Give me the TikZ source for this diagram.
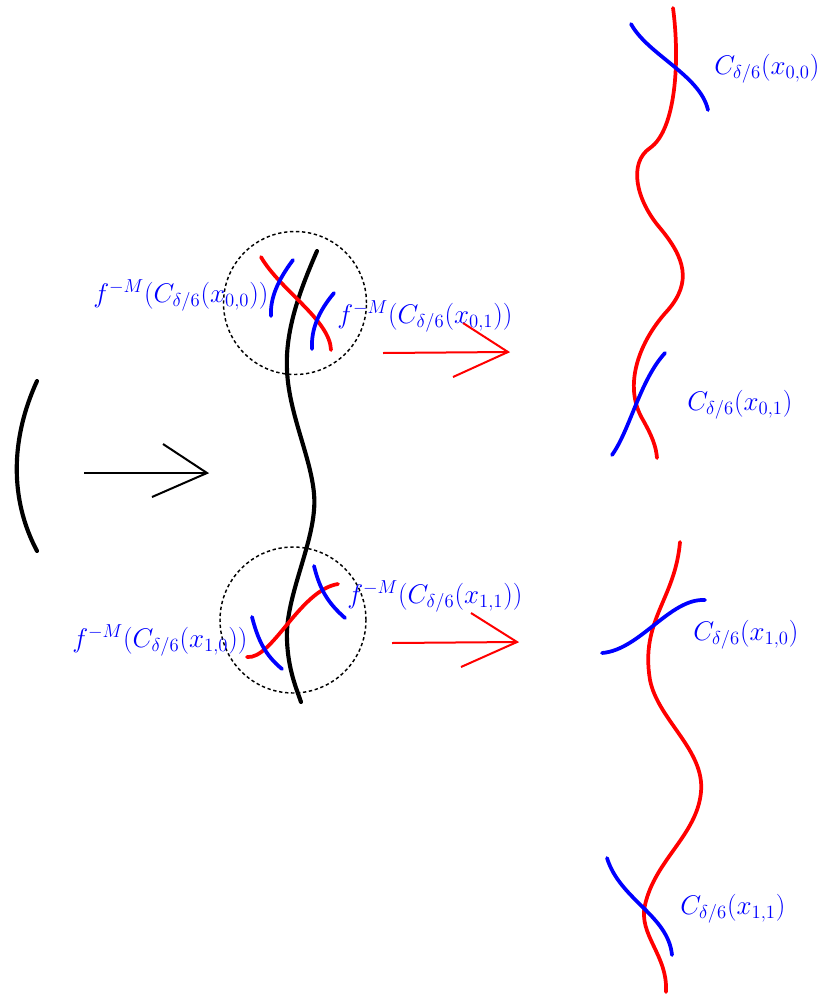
\documentclass[tikz,border=0pt]{standalone}
\usepackage{amsmath}
\newcommand{\biglab}[1]{\scalebox{1.17}{$#1$}}
\begin{document}
\begin{tikzpicture}[x=0.75pt,y=-0.75pt,
  thickcurve/.style={line width=3.1pt,line cap=round},
  colcurve/.style={line width=2.8pt,line cap=round},
  arrowline/.style={line width=1.5pt},
  dashcircle/.style={draw,line width=1.1pt,dash pattern=on 2.5pt off 2pt},
  lab/.style={text=blue,inner sep=0pt,anchor=base west,font=\fontsize{17.28}{21}\selectfont}]
\useasboundingbox (0,0) rectangle (819,996);

% left arc
\draw[thickcurve] (37,381) .. controls (10,440) and (10,500) .. (37,551);

% black arrow
\coordinate (ba0) at (84,473);
\coordinate (ba1) at (207,473);
\coordinate (ba2) at (163,444);
\coordinate (ba3) at (152,497);
\draw[arrowline] (ba0) -- (ba1);
\draw[arrowline] (ba2) -- (ba1) -- (ba3);

% dashed circles
\node[dashcircle,circle,minimum size=143*0.75pt,inner sep=0pt] (c1) at (295,303) {};
\node[dashcircle,circle,minimum size=146*0.75pt,inner sep=0pt] (c2) at (293,620) {};

% long black curve
\draw[thickcurve] (317,251) .. controls (300,290) and (285,330) .. (287,370)
  .. controls (289,420) and (318,470) .. (314,510)
  .. controls (311,550) and (285,600) .. (287,640)
  .. controls (288,670) and (297,690) .. (301,702);

% top circle contents
\draw[colcurve,red] (261,257) .. controls (280,290) and (330,320) .. (331,350);
\draw[colcurve,blue] (293,260) .. controls (278,280) and (270,298) .. (271,316);
\draw[colcurve,blue] (334,293) .. controls (318,312) and (311,330) .. (312,349);

% bottom circle contents
\draw[colcurve,red] (247,657) .. controls (272,660) and (300,590) .. (338,584);
\draw[colcurve,blue] (252,617) .. controls (258,640) and (265,655) .. (282,669);
\draw[colcurve,blue] (314,566) .. controls (320,590) and (328,603) .. (345,618);

% red arrows
\coordinate (ra0) at (383,353);
\coordinate (ra1) at (508,352);
\coordinate (ra2) at (463,323);
\coordinate (ra3) at (453,377);
\draw[arrowline,red] (ra0) -- (ra1);
\draw[arrowline,red] (ra2) -- (ra1) -- (ra3);
\coordinate (rb0) at (392,643);
\coordinate (rb1) at (517,642);
\coordinate (rb2) at (471,613);
\coordinate (rb3) at (461,667);
\draw[arrowline,red] (rb0) -- (rb1);
\draw[arrowline,red] (rb2) -- (rb1) -- (rb3);

% right top red curve
\draw[colcurve,red] (673,8) .. controls (680,60) and (676,130) .. (650,148)
  .. controls (628,163) and (636,200) .. (660,228)
  .. controls (685,258) and (692,282) .. (668,310)
  .. controls (640,340) and (622,385) .. (643,420)
  .. controls (652,436) and (656,446) .. (657,458);
\draw[colcurve,blue] (631,24) .. controls (648,55) and (700,75) .. (708,110);
\draw[colcurve,blue] (665,353) .. controls (640,380) and (630,430) .. (612,455);

% right bottom red curve
\draw[colcurve,red] (680,542) .. controls (675,600) and (640,620) .. (650,680)
  .. controls (658,720) and (705,750) .. (701,792)
  .. controls (697,835) and (655,860) .. (645,905)
  .. controls (638,935) and (668,955) .. (666,992);
\draw[colcurve,blue] (602,653) .. controls (640,650) and (670,598) .. (705,600);
\draw[colcurve,blue] (607,858) .. controls (620,900) and (668,915) .. (672,955);

% labels
\node[lab] (l1) at (93,302) {\biglab{f^{-M}(C_{\delta/6}(x_{0,0}))}};
\node[lab] (l2) at (337,323) {\biglab{f^{-M}(C_{\delta/6}(x_{0,1}))}};
\node[lab] (l3) at (72,647) {\biglab{f^{-M}(C_{\delta/6}(x_{1,0}))}};
\node[lab] (l4) at (347,603) {\biglab{f^{-M}(C_{\delta/6}(x_{1,1}))}};
\node[lab] (r1) at (714,74) {\biglab{C_{\delta/6}(x_{0,0})}};
\node[lab] (r2) at (687,410) {\biglab{C_{\delta/6}(x_{0,1})}};
\node[lab] (r3) at (693,640) {\biglab{C_{\delta/6}(x_{1,0})}};
\node[lab] (r4) at (680,914) {\biglab{C_{\delta/6}(x_{1,1})}};
\end{tikzpicture}
\end{document}
